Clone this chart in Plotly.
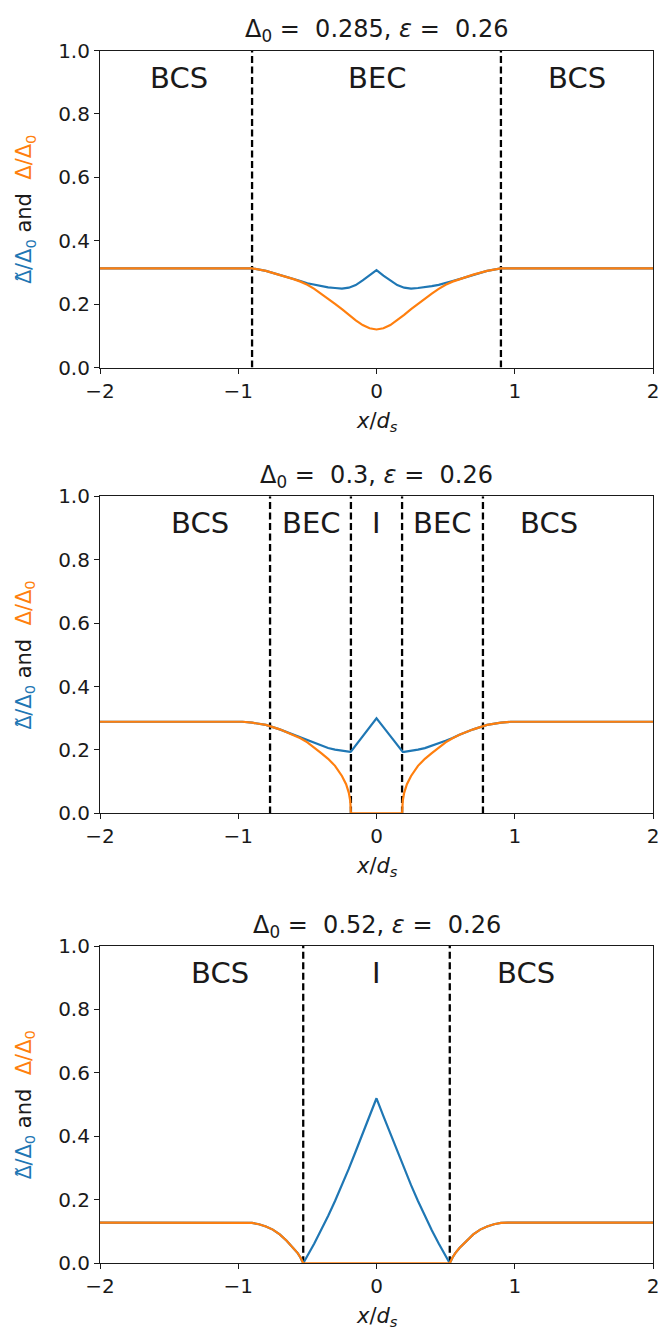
import plotly.graph_objects as go

BLUE = "#1f77b4"
ORANGE = "#ff7f0e"
INK = "#1a1a1a"
FONT = "DejaVu Sans"

# ---- panel 1: Delta0 = 0.285 ----
x_p1 = [-2.0, -0.9, -0.8, -0.7, -0.6, -0.55, -0.5, -0.45, -0.4, -0.35, -0.3,
        -0.25, -0.2, -0.15, -0.1, -0.05, 0.0, 0.05, 0.1, 0.15, 0.2, 0.25, 0.3,
        0.35, 0.4, 0.45, 0.5, 0.55, 0.6, 0.7, 0.8, 0.9, 2.0]
tilde_p1 = [0.313, 0.313, 0.305, 0.293, 0.279, 0.273, 0.266, 0.261, 0.257, 0.253, 0.251,
            0.249, 0.252, 0.260, 0.275, 0.290, 0.307, 0.290, 0.275, 0.260, 0.252, 0.249, 0.251,
            0.253, 0.257, 0.261, 0.266, 0.273, 0.279, 0.293, 0.305, 0.313, 0.313]
gap_p1 = [0.313, 0.313, 0.305, 0.293, 0.279, 0.271, 0.261, 0.248, 0.233, 0.217, 0.201,
          0.184, 0.166, 0.149, 0.134, 0.124, 0.120, 0.124, 0.134, 0.149, 0.166, 0.184, 0.201,
          0.217, 0.233, 0.248, 0.261, 0.271, 0.279, 0.293, 0.305, 0.313, 0.313]
walls_p1 = [-0.9, 0.9]
phase_names_p1 = ["BCS", "BEC", "BCS"]
phase_x_p1 = [-1.43, 0.0, 1.45]
title_p1 = "Δ<sub>0</sub> = \u00a00.285, <i>ε</i> = \u00a00.26"

# ---- panel 2: Delta0 = 0.3 ----
x_p2 = [-2.0, -0.97, -0.9, -0.8, -0.7, -0.6, -0.55, -0.5, -0.45, -0.4, -0.35, -0.3,
        -0.25, -0.22, -0.2, -0.19, -0.185, -0.15, -0.1, -0.05, 0.0, 0.05, 0.1, 0.15,
        0.185, 0.19, 0.2, 0.22, 0.25, 0.3, 0.35, 0.4, 0.45, 0.5, 0.55, 0.6, 0.7, 0.8,
        0.9, 0.97, 2.0]
tilde_p2 = [0.289, 0.289, 0.286, 0.279, 0.265, 0.248, 0.238, 0.229, 0.221, 0.213, 0.206, 0.201,
            0.197, 0.195, 0.194, 0.194, 0.195, 0.215, 0.243, 0.272, 0.300, 0.272, 0.243, 0.215,
            0.195, 0.194, 0.194, 0.195, 0.197, 0.201, 0.206, 0.213, 0.221, 0.229, 0.238, 0.248,
            0.265, 0.279, 0.286, 0.289, 0.289]
gap_p2 = [0.289, 0.289, 0.286, 0.279, 0.265, 0.248, 0.237, 0.224, 0.208, 0.190, 0.172, 0.150,
          0.118, 0.092, 0.065, 0.040, 0.0, 0.0, 0.0, 0.0, 0.0, 0.0, 0.0, 0.0,
          0.0, 0.040, 0.065, 0.092, 0.118, 0.150, 0.172, 0.190, 0.208, 0.224, 0.237, 0.248,
          0.265, 0.279, 0.286, 0.289, 0.289]
walls_p2 = [-0.77, -0.185, 0.185, 0.77]
phase_names_p2 = ["BCS", "BEC", "I", "BEC", "BCS"]
phase_x_p2 = [-1.28, -0.475, 0.0, 0.475, 1.245]
title_p2 = "Δ<sub>0</sub> = \u00a00.3, <i>ε</i> = \u00a00.26"

# ---- panel 3: Delta0 = 0.52 ----
x_p3 = [-2.0, -0.95, -0.9, -0.85, -0.8, -0.75, -0.7, -0.65, -0.6, -0.57, -0.55, -0.53,
        -0.45, -0.4, -0.35, -0.3, -0.25, -0.2, -0.15, -0.1, -0.05, 0.0, 0.05, 0.1, 0.15,
        0.2, 0.25, 0.3, 0.35, 0.4, 0.45,
        0.53, 0.55, 0.57, 0.6, 0.65, 0.7, 0.75, 0.8, 0.85, 0.9, 0.95, 2.0]
tilde_p3 = [0.128, 0.128, 0.127, 0.123, 0.116, 0.106, 0.091, 0.071, 0.048, 0.032, 0.018, 0.0,
            0.062, 0.104, 0.149, 0.196, 0.246, 0.298, 0.353, 0.408, 0.464, 0.520, 0.464, 0.408, 0.353,
            0.298, 0.246, 0.196, 0.149, 0.104, 0.062,
            0.0, 0.018, 0.032, 0.048, 0.071, 0.091, 0.106, 0.116, 0.123, 0.127, 0.128, 0.128]
gap_p3 = [0.128, 0.128, 0.127, 0.123, 0.116, 0.106, 0.091, 0.071, 0.048, 0.032, 0.018, 0.0,
          0.0, 0.0, 0.0, 0.0, 0.0, 0.0, 0.0, 0.0, 0.0, 0.0, 0.0, 0.0, 0.0,
          0.0, 0.0, 0.0, 0.0, 0.0, 0.0,
          0.0, 0.018, 0.032, 0.048, 0.071, 0.091, 0.106, 0.116, 0.123, 0.127, 0.128, 0.128]
walls_p3 = [-0.53, 0.53]
phase_names_p3 = ["BCS", "I", "BCS"]
phase_x_p3 = [-1.13, 0.0, 1.08]
title_p3 = "Δ<sub>0</sub> = \u00a00.52, <i>ε</i> = \u00a00.26"

x_ticks = [-2, -1, 0, 1, 2]
x_tick_text = ["−2", "−1", "0", "1", "2"]
y_ticks = [0.0, 0.2, 0.4, 0.6, 0.8, 1.0]
phase_label_y = 0.915

W, H = 659, 1343
LEFT, RIGHT = 100, 3
# vertical pixel extent (top, bottom) of each plotting box
boxes = [(39.3, 362.0), (493.0, 816.0), (951.0, 1274.0)]

panels = [
    (x_p1, tilde_p1, gap_p1, walls_p1, phase_names_p1, phase_x_p1, title_p1),
    (x_p2, tilde_p2, gap_p2, walls_p2, phase_names_p2, phase_x_p2, title_p2),
    (x_p3, tilde_p3, gap_p3, walls_p3, phase_names_p3, phase_x_p3, title_p3),
]

fig = go.Figure()
annotations = []
# the combined tilde is set in Noto Sans, whose mark positioning centres it over the Delta
ylabel = ('<span style="color:%s"><span style="font-family:Noto Sans">Δ̃</span>/Δ<sub>0</sub></span>'
          ' and \u00a0<span style="color:%s">Δ/Δ<sub>0</sub></span>') % (BLUE, ORANGE)


def py(p):
    return 1 - p / H


for i, (xs, tilde, gap, walls, names, name_x, title) in enumerate(panels):
    k = "" if i == 0 else str(i + 1)
    xa, ya = "x" + k, "y" + k
    top, bottom = boxes[i]

    # phase boundaries
    for w in walls:
        fig.add_trace(go.Scatter(x=[w, w], y=[0, 1], mode="lines", xaxis=xa, yaxis=ya,
                                 line=dict(color="black", width=2.3, dash="7px,3.5px"),
                                 showlegend=False, hoverinfo="skip"))
    fig.add_trace(go.Scatter(x=xs, y=tilde, mode="lines", xaxis=xa, yaxis=ya,
                             line=dict(color=BLUE, width=2.2), showlegend=False))
    fig.add_trace(go.Scatter(x=xs, y=gap, mode="lines", xaxis=xa, yaxis=ya,
                             line=dict(color=ORANGE, width=2.2), showlegend=False))

    axis_common = dict(showline=True, mirror=True, linecolor=INK, linewidth=1.1,
                       ticks="outside", ticklen=5, tickwidth=1.1, tickcolor=INK,
                       showgrid=False, zeroline=False, ticklabeloverflow="allow",
                       tickfont=dict(family=FONT, size=20, color=INK))
    fig.layout["xaxis" + k] = dict(axis_common, domain=[0, 1], range=[-2, 2],
                                   tickvals=x_ticks, ticktext=x_tick_text,
                                   anchor=ya)
    fig.layout["yaxis" + k] = dict(axis_common, domain=[py(bottom), py(top)],
                                   range=[0, 1], tickvals=y_ticks, tickformat=".1f",
                                   anchor=xa)

    for nm, nx in zip(names, name_x):
        annotations.append(dict(x=nx, y=phase_label_y, xref=xa, yref=ya, text=nm,
                                showarrow=False, xanchor="center", yanchor="middle",
                                font=dict(family=FONT, size=29, color=INK)))
    annotations.append(dict(x=0.5, y=py(top - 20), xref="paper", yref="paper", text=title,
                            showarrow=False, xanchor="center", yanchor="middle",
                            font=dict(family=FONT, size=24, color=INK)))
    annotations.append(dict(x=0.5, y=py(bottom + 55), xref="paper", yref="paper",
                            text="<i>x</i>/<i>d<sub>s</sub></i>",
                            showarrow=False, xanchor="center", yanchor="middle",
                            font=dict(family=FONT, size=21, color=INK)))
    annotations.append(dict(x=(23 - LEFT) / (W - LEFT - RIGHT), y=py((top + bottom) / 2),
                            xref="paper", yref="paper", text=ylabel, textangle=-90,
                            showarrow=False, xanchor="center", yanchor="middle",
                            font=dict(family=FONT, size=21, color=INK)))

fig.update_layout(width=W, height=H, margin=dict(l=LEFT, r=RIGHT, t=0, b=0),
                  paper_bgcolor="white", plot_bgcolor="white",
                  annotations=annotations, showlegend=False)

fig.write_html("out.html")
